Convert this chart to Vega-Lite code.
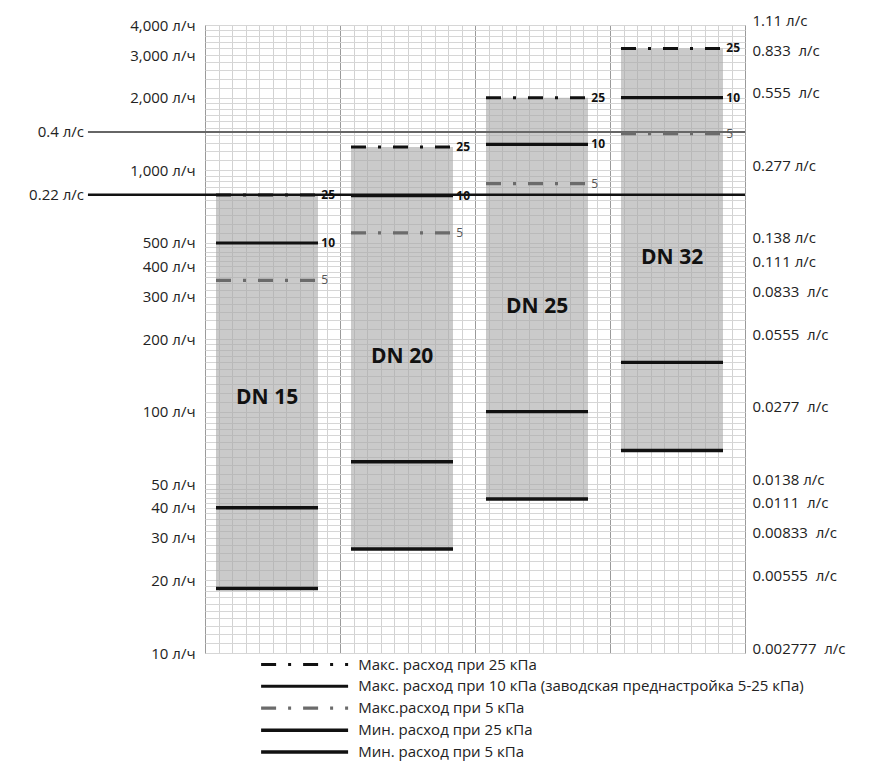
{
  "$schema": "https://vega.github.io/schema/vega-lite/v6.json",
  "width": 540,
  "height": 628,
  "autosize": {"type": "none"},
  "padding": {"left": 205, "top": 25, "right": 129, "bottom": 111},
  "background": "white",
  "config": {
    "font": "Open Sans",
    "view": {"stroke": "#9a9a9a", "strokeWidth": 1},
    "axis": {"labelFont": "Open Sans", "labelFontSize": 15, "labelColor": "#222", "labelFlush": false, "labelOverlap": false, "labelBound": false}
  },
  "datasets": {
    "bars": [
      {"dn": "DN 15", "lo": 18.5, "hi": 790, "mid": 114},
      {"dn": "DN 20", "lo": 27, "hi": 1250, "mid": 168},
      {"dn": "DN 25", "lo": 43.5, "hi": 2000, "mid": 271},
      {"dn": "DN 32", "lo": 69, "hi": 3200, "mid": 432}
    ],
    "refs": [
      {"label": "0.4 л/с", "lph": 1440},
      {"label": "0.22 л/с", "lph": 792}
    ],
    "levels": [
      {"dn": "DN 15", "series": "Макс. расход при 25 кПа", "tag": "25", "lph": 790},
      {"dn": "DN 15", "series": "Макс. расход при 10 кПа (заводская преднастройка 5-25 кПа)", "tag": "10", "lph": 500},
      {"dn": "DN 15", "series": "Макс.расход при 5 кПа", "tag": "5", "lph": 350},
      {"dn": "DN 15", "series": "Мин. расход при 25 кПа", "tag": "", "lph": 40},
      {"dn": "DN 15", "series": "Мин. расход при 5 кПа", "tag": "", "lph": 18.5},
      {"dn": "DN 20", "series": "Макс. расход при 25 кПа", "tag": "25", "lph": 1250},
      {"dn": "DN 20", "series": "Макс. расход при 10 кПа (заводская преднастройка 5-25 кПа)", "tag": "10", "lph": 785},
      {"dn": "DN 20", "series": "Макс.расход при 5 кПа", "tag": "5", "lph": 550},
      {"dn": "DN 20", "series": "Мин. расход при 25 кПа", "tag": "", "lph": 62},
      {"dn": "DN 20", "series": "Мин. расход при 5 кПа", "tag": "", "lph": 27},
      {"dn": "DN 25", "series": "Макс. расход при 25 кПа", "tag": "25", "lph": 2000},
      {"dn": "DN 25", "series": "Макс. расход при 10 кПа (заводская преднастройка 5-25 кПа)", "tag": "10", "lph": 1280},
      {"dn": "DN 25", "series": "Макс.расход при 5 кПа", "tag": "5", "lph": 880},
      {"dn": "DN 25", "series": "Мин. расход при 25 кПа", "tag": "", "lph": 100},
      {"dn": "DN 25", "series": "Мин. расход при 5 кПа", "tag": "", "lph": 43.5},
      {"dn": "DN 32", "series": "Макс. расход при 25 кПа", "tag": "25", "lph": 3200},
      {"dn": "DN 32", "series": "Макс. расход при 10 кПа (заводская преднастройка 5-25 кПа)", "tag": "10", "lph": 2000},
      {"dn": "DN 32", "series": "Макс.расход при 5 кПа", "tag": "5", "lph": 1420},
      {"dn": "DN 32", "series": "Мин. расход при 25 кПа", "tag": "", "lph": 160},
      {"dn": "DN 32", "series": "Мин. расход при 5 кПа", "tag": "", "lph": 69}
    ]
  },
  "resolve": {"scale": {"x": "independent", "y": "shared"}, "axis": {"x": "independent", "y": "independent"}},
  "layer": [
    {
      "data": {"name": "bars"},
      "mark": {"type": "rect", "fill": "#a6a6a6", "opacity": 0.6},
      "encoding": {
        "x": {"field": "dn", "type": "nominal", "bandPosition": 0.0815, "scale": {"type": "band", "domain": ["DN 15", "DN 20", "DN 25", "DN 32"], "paddingInner": 0, "paddingOuter": 0}, "axis": null},
        "x2": {"field": "dn", "bandPosition": 0.837},
        "y": {"field": "lo", "type": "quantitative", "scale": {"type": "log", "domain": [10, 4000], "nice": false},
          "axis": {"orient": "left", "values": [10, 20, 30, 40, 50, 100, 200, 300, 400, 500, 1000, 2000, 3000, 4000], "grid": true, "gridColor": "#adadad", "gridWidth": 1, "labelExpr": "format(datum.value, ',') + ' л/ч'", "ticks": false, "domain": false, "labelPadding": 10, "title": null}},
        "y2": {"field": "hi"}
      }
    },
    {
      "data": {"name": "refs"},
      "mark": {"type": "rule"},
      "encoding": {
        "x": {"datum": -8.67, "type": "quantitative", "scale": {"domain": [0, 40], "nice": false, "zero": false},
          "axis": {"values": [0,1,2,3,4,5,6,7,8,9,10,11,12,13,14,15,16,17,18,19,20,21,22,23,24,25,26,27,28,29,30,31,32,33,34,35,36,37,38,39,40], "grid": true, "gridColor": {"condition": {"test": "datum.value % 10 === 0", "value": "#9a9a9a"}, "value": "#d2d2d2"}, "labels": false, "ticks": false, "domain": false, "title": null}},
        "x2": {"datum": 40},
        "y": {"field": "lph", "type": "quantitative", "scale": {"type": "log", "domain": [10, 4000], "nice": false},
          "axis": {"orient": "left", "values": [10,11,12,13,14,15,16,17,18,19,20,22,24,26,28,30,32,34,36,38,40,42,44,46,48,50,55,60,65,70,75,80,85,90,95,100,110,120,130,140,150,160,170,180,190,200,220,240,260,280,300,320,340,360,380,400,420,440,460,480,500,550,600,650,700,750,800,850,900,950,1000,1100,1200,1300,1400,1500,1600,1700,1800,1900,2000,2200,2400,2600,2800,3000,3200,3400,3600,3800,4000], "grid": true, "gridColor": "#d6d6d6", "gridWidth": 1, "labels": false, "ticks": false, "domain": false, "title": null}},
        "color": {"condition": {"test": "datum.lph > 1000", "value": "#666666"}, "value": "#111111"},
        "strokeWidth": {"condition": {"test": "datum.lph > 1000", "value": 2}, "value": 2.5}
      }
    },
    {
      "data": {"name": "refs"},
      "mark": {"type": "text", "align": "right", "baseline": "middle", "fontSize": 15, "font": "Open Sans", "color": "#222", "dx": -4},
      "encoding": {
        "x": {"datum": -8.67, "type": "quantitative", "scale": {"domain": [0, 40], "nice": false, "zero": false}, "axis": null},
        "y": {"field": "lph", "type": "quantitative", "scale": {"type": "log", "domain": [10, 4000], "nice": false}, "axis": null},
        "text": {"field": "label"}
      }
    },
    {
      "data": {"name": "levels"},
      "mark": {"type": "rule"},
      "encoding": {
        "x": {"field": "dn", "type": "nominal", "bandPosition": 0.0815, "scale": {"type": "band", "domain": ["DN 15", "DN 20", "DN 25", "DN 32"], "paddingInner": 0, "paddingOuter": 0}, "axis": null},
        "x2": {"field": "dn", "bandPosition": 0.837},
        "y": {"field": "lph", "type": "quantitative", "scale": {"type": "log", "domain": [10, 4000], "nice": false}, "axis": null},
        "color": {"field": "series", "type": "ordinal",
          "scale": {"domain": ["Макс. расход при 25 кПа", "Макс. расход при 10 кПа (заводская преднастройка 5-25 кПа)", "Макс.расход при 5 кПа", "Мин. расход при 25 кПа", "Мин. расход при 5 кПа"], "range": ["#111111", "#111111", "#6b6b6b", "#111111", "#111111"]},
          "legend": {"orient": "none", "legendX": 86.6, "legendY": 627, "title": null, "symbolType": "M-4,0H4", "symbolSize": 473, "labelOffset": 40.6, "labelFontSize": 15, "labelFont": "Open Sans", "labelColor": "#222", "labelLimit": 700, "rowPadding": 0.75, "padding": 0}},
        "strokeDash": {"field": "series", "type": "ordinal",
          "scale": {"domain": ["Макс. расход при 25 кПа", "Макс. расход при 10 кПа (заводская преднастройка 5-25 кПа)", "Макс.расход при 5 кПа", "Мин. расход при 25 кПа", "Мин. расход при 5 кПа"], "range": [[15, 12, 3, 12], [1, 0], [15, 12, 3, 12], [1, 0], [1, 0]]}},
        "strokeWidth": {"field": "series", "type": "ordinal",
          "scale": {"domain": ["Макс. расход при 25 кПа", "Макс. расход при 10 кПа (заводская преднастройка 5-25 кПа)", "Макс.расход при 5 кПа", "Мин. расход при 25 кПа", "Мин. расход при 5 кПа"], "range": [3, 3.5, 3, 4.5, 4.5]}}
      }
    },
    {
      "data": {"name": "levels"},
      "transform": [{"filter": "datum.tag === '25' || datum.tag === '10'"}],
      "mark": {"type": "text", "align": "left", "baseline": "middle", "fontSize": 12, "fontWeight": "bold", "font": "Open Sans", "color": "#111"},
      "encoding": {
        "x": {"field": "dn", "type": "nominal", "bandPosition": 0.862, "scale": {"type": "band", "domain": ["DN 15", "DN 20", "DN 25", "DN 32"], "paddingInner": 0, "paddingOuter": 0}, "axis": null},
        "y": {"field": "lph", "type": "quantitative", "scale": {"type": "log", "domain": [10, 4000], "nice": false}, "axis": null},
        "text": {"field": "tag"}
      }
    },
    {
      "data": {"name": "levels"},
      "transform": [{"filter": "datum.tag === '5'"}],
      "mark": {"type": "text", "align": "left", "baseline": "middle", "fontSize": 12, "font": "Open Sans", "color": "#555"},
      "encoding": {
        "x": {"field": "dn", "type": "nominal", "bandPosition": 0.862, "scale": {"type": "band", "domain": ["DN 15", "DN 20", "DN 25", "DN 32"], "paddingInner": 0, "paddingOuter": 0}, "axis": null},
        "y": {"field": "lph", "type": "quantitative", "scale": {"type": "log", "domain": [10, 4000], "nice": false}, "axis": null},
        "text": {"field": "tag"}
      }
    },
    {
      "data": {"name": "bars"},
      "mark": {"type": "text", "align": "center", "baseline": "middle", "fontSize": 21, "fontWeight": "bold", "font": "Open Sans", "color": "#111"},
      "encoding": {
        "x": {"field": "dn", "type": "nominal", "bandPosition": 0.46, "scale": {"type": "band", "domain": ["DN 15", "DN 20", "DN 25", "DN 32"], "paddingInner": 0, "paddingOuter": 0}, "axis": null},
        "y": {"field": "mid", "type": "quantitative", "scale": {"type": "log", "domain": [10, 4000], "nice": false},
          "axis": {"orient": "right", "values": [10, 20, 30, 40, 50, 100, 200, 300, 400, 500, 1000, 2000, 3000, 4000], "grid": false, "ticks": false, "domain": false, "labelPadding": 7, "labelOffset": -5, "title": null,
            "labelExpr": "datum.value == 4000 ? '1.11 л/с' : datum.value == 3000 ? '0.833\u00a0 л/с' : datum.value == 2000 ? '0.555\u00a0 л/с' : datum.value == 1000 ? '0.277 л/с' : datum.value == 500 ? '0.138 л/с' : datum.value == 400 ? '0.111 л/с' : datum.value == 300 ? '0.0833\u00a0 л/с' : datum.value == 200 ? '0.0555\u00a0 л/с' : datum.value == 100 ? '0.0277\u00a0 л/с' : datum.value == 50 ? '0.0138 л/с' : datum.value == 40 ? '0.0111\u00a0 л/с' : datum.value == 30 ? '0.00833\u00a0 л/с' : datum.value == 20 ? '0.00555\u00a0 л/с' : '0.002777\u00a0 л/с'"}},
        "text": {"field": "dn"}
      }
    }
  ]
}
